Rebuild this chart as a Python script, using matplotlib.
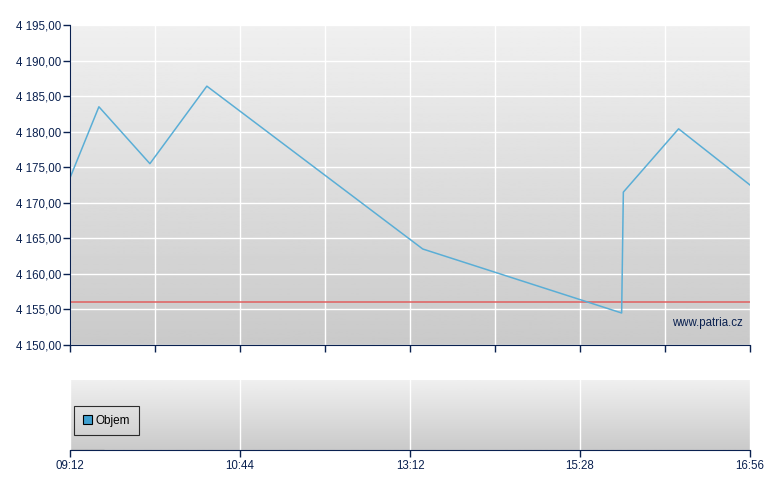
import numpy as np
import matplotlib
matplotlib.use("Agg")
import matplotlib.pyplot as plt
from matplotlib.ticker import FuncFormatter

# === data ===
x_pos = [0.0, 0.34, 0.94, 1.61, 4.15, 6.49, 6.51, 7.16, 8.0]
price = [4173.5, 4183.5, 4175.5, 4186.4, 4163.5, 4154.5, 4171.5, 4180.4, 4172.5]
ref_level = 4156.0
y_ticks = [4150, 4155, 4160, 4165, 4170, 4175, 4180, 4185, 4190, 4195]
time_pos = [0, 2, 4, 6, 8]
time_labels = ["09:12", "10:44", "13:12", "15:28", "16:56"]

NAVY = "#0a2150"
LINE = "#5aaed6"

plt.rcParams["font.family"] = ["Liberation Sans", "DejaVu Sans"]
plt.rcParams["font.size"] = 8


def fmt_price(v, _):
    s = f"{v:,.2f}".replace(",", " ").replace(".", ",")
    return s


def gradient_bg(ax, top=0.94, bottom=0.79):
    grad = np.linspace(top, bottom, 256).reshape(-1, 1)
    ax.imshow(grad, cmap="gray", vmin=0, vmax=1, aspect="auto",
              extent=(0, 1, 0, 1), transform=ax.transAxes, zorder=0)


W, H = 780, 490
fig = plt.figure(figsize=(W / 100, H / 100), dpi=100)
ax = fig.add_axes([70 / W, (H - 345) / H, 680 / W, 320 / H])
ax2 = fig.add_axes([70 / W, (H - 450) / H, 680 / W, 70 / H])

# --- main price panel ---
gradient_bg(ax)
ax.plot(x_pos, price, color=LINE, linewidth=1.1, zorder=3)
ax.axhline(ref_level, color="#e06060", linewidth=1.1, zorder=2)
ax.set_xlim(0, 8)
ax.set_ylim(4150, 4195)
ax.set_yticks(y_ticks)
ax.yaxis.set_major_formatter(FuncFormatter(fmt_price))
ax.set_xticks(range(9))
ax.set_xticklabels([])
ax.grid(True, color="white", linewidth=1)
for g in ax.get_xgridlines() + ax.get_ygridlines():
    g.set_zorder(1)
ax.tick_params(colors=NAVY, length=5, width=1, labelcolor=NAVY, labelsize=8.3)
ax.tick_params(axis="y", pad=1)
for s in ["top", "right"]:
    ax.spines[s].set_visible(False)
for s in ["left", "bottom"]:
    ax.spines[s].set_color(NAVY)
    ax.spines[s].set_zorder(4)
ax.text(0.99, 0.07, "www.patria.cz", transform=ax.transAxes, ha="right",
        va="center", color=NAVY, fontsize=8.3, zorder=4)

# --- volume panel ---
gradient_bg(ax2)
ax2.set_xlim(0, 8)
ax2.set_ylim(0, 1)
ax2.set_yticks([])
ax2.set_xticks(time_pos)
ax2.set_xticklabels(time_labels)
ax2.grid(True, axis="x", color="white", linewidth=1)
for g in ax2.get_xgridlines():
    g.set_zorder(1)
ax2.tick_params(axis="x", colors=NAVY, length=5, width=1, labelcolor=NAVY,
                labelsize=8.3, pad=2)
for s in ["top", "right", "left"]:
    ax2.spines[s].set_visible(False)
ax2.spines["bottom"].set_color(NAVY)
ax2.spines["bottom"].set_zorder(4)

ax2.bar([0], [0], color="#3fa0d0", edgecolor="black", linewidth=0.8, label="Objem")
leg = ax2.legend(loc="center left", bbox_to_anchor=(0.0, 0.42), frameon=True,
                 fancybox=False, edgecolor="black", facecolor="none",
                 handlelength=0.75, handleheight=0.75, handletextpad=0.35,
                 borderpad=0.75, borderaxespad=0.35, fontsize=8.5)
leg.get_frame().set_linewidth(0.8)
leg.set_zorder(5)

fig.savefig("out.png", dpi=100)
plt.close(fig)
